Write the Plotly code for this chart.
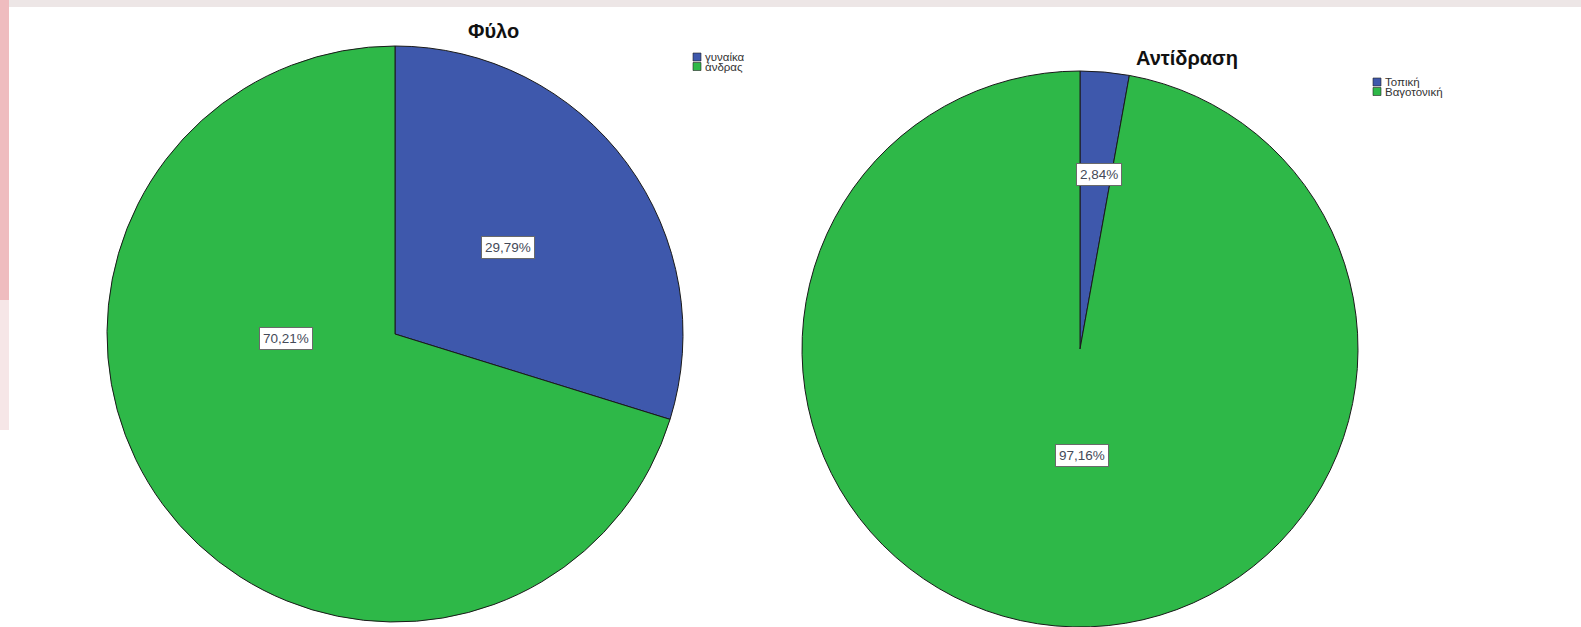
import plotly.graph_objects as go

W, H = 1581, 627

# ---- data ----
sex_labels = ["γυναίκα", "άνδρας"]
sex_values = [29.79, 70.21]
sex_text = ["29,79%", "70,21%"]

react_labels = ["Τοπική", "Βαγοτονική"]
react_values = [2.84, 97.16]
react_text = ["2,84%", "97,16%"]

titles = ["Φύλο", "Αντίδραση"]
colors = ["#3E58AC", "#2EB848"]

def px_x(v):
    return v / W

def px_y(v):
    return 1 - v / H

fig = go.Figure()

fig.add_trace(go.Pie(
    labels=sex_labels, values=sex_values, sort=False, direction="clockwise",
    rotation=0, textinfo="none", hoverinfo="label+percent",
    marker=dict(colors=colors, line=dict(color="#1a1a1a", width=1)),
    domain=dict(x=[px_x(106), px_x(684)], y=[px_y(622), px_y(46)]),
    showlegend=False,
))
fig.add_trace(go.Pie(
    labels=react_labels, values=react_values, sort=False, direction="clockwise",
    rotation=0, textinfo="none", hoverinfo="label+percent",
    marker=dict(colors=colors, line=dict(color="#1a1a1a", width=1)),
    domain=dict(x=[px_x(802), px_x(1358)], y=[px_y(627), px_y(71)]),
    showlegend=False,
))

font_family = "Arial, Liberation Sans, sans-serif"
annotations = []
shapes = []

# background decoration strips (screenshot edges)
shapes.append(dict(type="rect", xref="paper", yref="paper", x0=0, x1=1,
                   y0=px_y(7), y1=1, fillcolor="#EDE6E6", line=dict(width=0), layer="below"))
shapes.append(dict(type="rect", xref="paper", yref="paper", x0=0, x1=px_x(9),
                   y0=px_y(300), y1=1, fillcolor="#EFBCBF", line=dict(width=0), layer="below"))
shapes.append(dict(type="rect", xref="paper", yref="paper", x0=0, x1=px_x(9),
                   y0=px_y(430), y1=px_y(300), fillcolor="#F6E6E7", line=dict(width=0), layer="below"))

# titles
title_pos = [(493, 31), (1187, 58)]
for t, (tx, ty) in zip(titles, title_pos):
    annotations.append(dict(text="<b>%s</b>" % t, x=px_x(tx), y=px_y(ty), xref="paper", yref="paper",
                            xanchor="center", yanchor="middle", showarrow=False,
                            font=dict(family=font_family, size=20, color="#111")))

# slice labels
label_pos = [[(508, 247), (286, 338)], [(1099, 175), (1082, 455)]]
for texts, positions in zip([sex_text, react_text], label_pos):
    for t, (lx, ly) in zip(texts, positions):
        annotations.append(dict(text=t, x=px_x(lx), y=px_y(ly), xref="paper", yref="paper",
                                xanchor="center", yanchor="middle",
                                showarrow=False, bgcolor="white", bordercolor="#6a6a6a",
                                borderwidth=1, borderpad=3,
                                font=dict(family=font_family, size=13.5, color="#444a58")))

# custom legends
legend_specs = [(sex_labels, 693, 53), (react_labels, 1373, 78)]
for labels, lx, ly in legend_specs:
    for i, (lab, c) in enumerate(zip(labels, colors)):
        y0 = ly + i * 9.5
        shapes.append(dict(type="rect", xref="paper", yref="paper",
                           x0=px_x(lx), x1=px_x(lx + 8), y0=px_y(y0 + 8), y1=px_y(y0),
                           fillcolor=c, line=dict(color="#222", width=0.6)))
        annotations.append(dict(text=lab, x=px_x(lx + 10), y=px_y(y0 + 4), xref="paper", yref="paper",
                                xanchor="left", yanchor="middle", showarrow=False,
                                font=dict(family=font_family, size=11.5, color="#333")))

fig.update_layout(
    width=W, height=H, margin=dict(l=0, r=0, t=0, b=0),
    paper_bgcolor="white", plot_bgcolor="white",
    annotations=annotations, shapes=shapes,
)

fig.write_html("out.html")
